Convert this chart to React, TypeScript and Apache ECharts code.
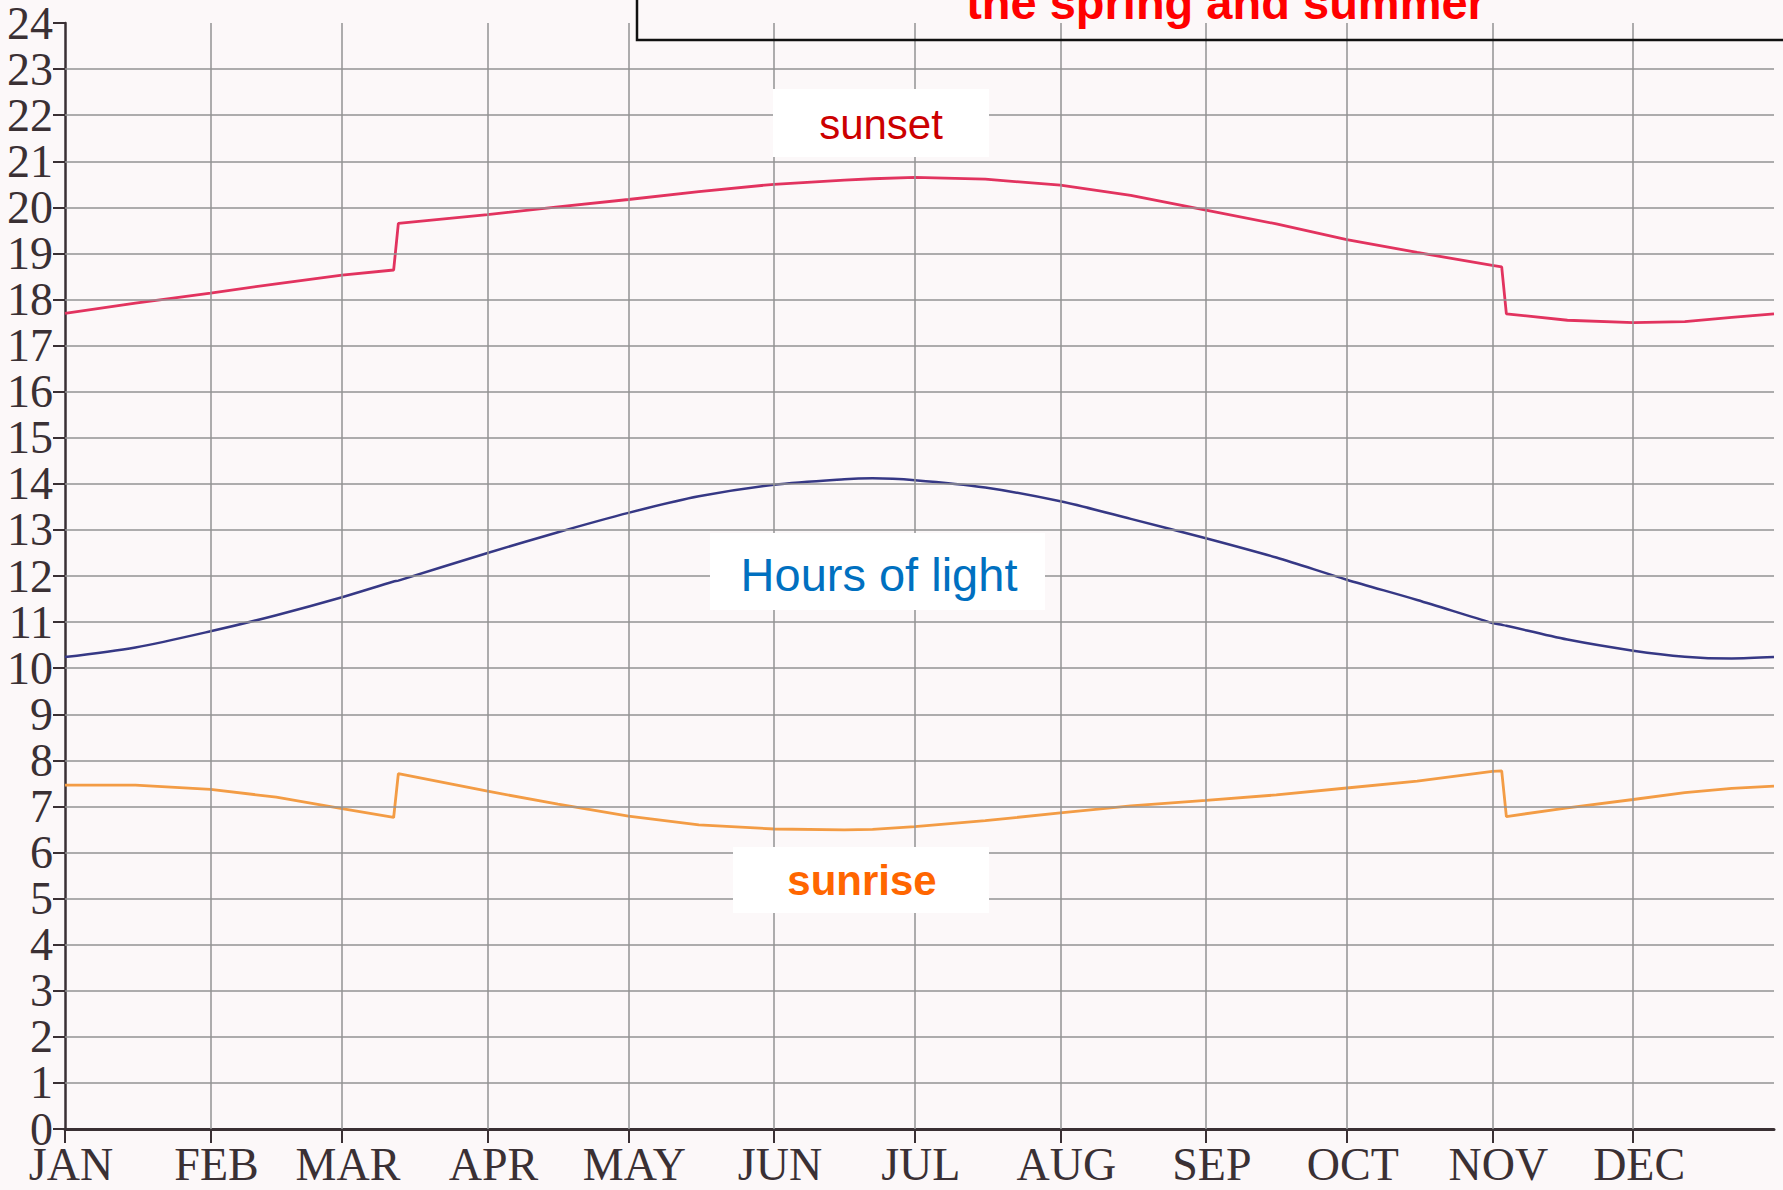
import React, { useEffect, useRef } from "react";
import * as echarts from "echarts";

// day of year (0 = Jan 1)
const monthDays = [0, 31, 59, 90, 120, 151, 181, 212, 243, 273, 304, 334];
const monthNames = ["JAN", "FEB", "MAR", "APR", "MAY", "JUN", "JUL", "AUG", "SEP", "OCT", "NOV", "DEC"];
const hourTicks = [1, 2, 3, 4, 5, 6, 7, 8, 9, 10, 11, 12, 13, 14, 15, 16, 17, 18, 19, 20, 21, 22, 23];

const days = [0, 15, 31, 45, 59, 70, 71, 90, 105, 120, 135, 151, 166, 172, 181, 196, 212, 227, 243, 258, 273, 288, 304, 306, 307, 320, 334, 345, 355, 364];
const sunsetHours = [17.7, 17.92, 18.14, 18.34, 18.53, 18.64, 19.65, 19.84, 20.01, 20.17, 20.34, 20.5, 20.59, 20.62, 20.65, 20.61, 20.48, 20.26, 19.94, 19.64, 19.3, 19.02, 18.74, 18.71, 17.69, 17.55, 17.5, 17.52, 17.61, 17.69];
const lightHours = [10.24, 10.45, 10.8, 11.15, 11.54, 11.88, 11.9, 12.5, 12.95, 13.37, 13.73, 13.98, 14.1, 14.12, 14.08, 13.92, 13.62, 13.24, 12.82, 12.4, 11.92, 11.48, 10.98, 10.94, 10.92, 10.62, 10.38, 10.25, 10.21, 10.24];
const sunriseHours = [7.46, 7.46, 7.37, 7.2, 6.95, 6.76, 7.71, 7.33, 7.05, 6.79, 6.6, 6.51, 6.49, 6.5, 6.56, 6.69, 6.86, 7.01, 7.13, 7.25, 7.4, 7.55, 7.76, 7.77, 6.78, 6.97, 7.15, 7.3, 7.39, 7.44];

const toPairs = (vals: number[]) => days.map((d, i) => [d, vals[i]]);

export default function App() {
  const ref = useRef<HTMLDivElement>(null);
  useEffect(() => {
    if (!ref.current) return;
    const chart = echarts.init(ref.current, undefined, { renderer: "svg" });
    const axisColor = "#3a3034";
    const gridColor = "#939393";
    const option: any = {
      animation: false,
      backgroundColor: "#fcf8f9",
      grid: { left: 65, top: 17, width: 1709, height: 1112, containLabel: false },
      xAxis: {
        type: "value",
        min: 0,
        max: 364,
        axisLine: { show: true, lineStyle: { color: axisColor, width: 3 } },
        axisTick: { show: true, customValues: monthDays, length: 14, lineStyle: { color: axisColor, width: 2 } },
        axisLabel: {
          customValues: monthDays,
          formatter: (v: number) => {
            const i = monthDays.indexOf(v);
            return i >= 0 ? monthNames[i] : "";
          },
          fontFamily: "Liberation Serif",
          fontSize: 46,
          color: axisColor,
          margin: 12,
          padding: [0, 0, 0, 12],
        },
        splitLine: { show: false },
      },
      yAxis: {
        type: "value",
        min: 0,
        max: 24,
        interval: 1,
        axisLine: { show: true, lineStyle: { color: axisColor, width: 2.5 } },
        axisTick: { show: true, length: 12, lineStyle: { color: axisColor, width: 2 } },
        axisLabel: {
          fontFamily: "Liberation Serif",
          fontSize: 46,
          color: axisColor,
          margin: 12,
        },
        splitLine: { show: false },
      },
      series: [
        {
          type: "line",
          name: "grid",
          data: [],
          z: 1,
          silent: true,
          markLine: {
            silent: true,
            animation: false,
            symbol: ["none", "none"],
            label: { show: false },
            lineStyle: { color: gridColor, width: 1.5, type: "solid" },
            data: [
              ...hourTicks.map((h) => ({ yAxis: h })),
              ...monthDays.slice(1).map((d) => ({ xAxis: d })),
            ],
          },
        },
        {
          type: "line",
          name: "sunset",
          data: toPairs(sunsetHours),
          showSymbol: false,
          z: 3,
          lineStyle: { color: "#e2335f", width: 2.8 },
        },
        {
          type: "line",
          name: "Hours of light",
          data: toPairs(lightHours),
          showSymbol: false,
          smooth: 0.3,
          z: 3,
          lineStyle: { color: "#363885", width: 2.5 },
        },
        {
          type: "line",
          name: "sunrise",
          data: toPairs(sunriseHours),
          showSymbol: false,
          z: 3,
          lineStyle: { color: "#f39c45", width: 2.8 },
        },
      ],
      graphic: [
        {
          type: "rect",
          z: 100,
          shape: { x: 637, y: -80, width: 1300, height: 120 },
          style: { fill: "none", stroke: "#111111", lineWidth: 2.5 },
        },
        {
          type: "text",
          z: 101,
          style: {
            x: 1226,
            y: 2,
            text: "the spring and summer",
            font: "bold 47px 'Liberation Sans', Arial, sans-serif",
            fill: "#ff0000",
            align: "center",
            verticalAlign: "middle",
          },
        },
        {
          type: "rect",
          z: 100,
          shape: { x: 773, y: 89, width: 216, height: 68 },
          style: { fill: "#ffffff" },
        },
        {
          type: "text",
          z: 101,
          style: {
            x: 881,
            y: 124,
            text: "sunset",
            font: "42px 'Liberation Sans', Arial, sans-serif",
            fill: "#cc0000",
            align: "center",
            verticalAlign: "middle",
          },
        },
        {
          type: "rect",
          z: 100,
          shape: { x: 710, y: 533, width: 335, height: 77 },
          style: { fill: "#ffffff" },
        },
        {
          type: "text",
          z: 101,
          style: {
            x: 879,
            y: 574,
            text: "Hours of light",
            font: "47px 'Liberation Sans', Arial, sans-serif",
            fill: "#0070c0",
            align: "center",
            verticalAlign: "middle",
          },
        },
        {
          type: "rect",
          z: 100,
          shape: { x: 733, y: 847, width: 256, height: 66 },
          style: { fill: "#ffffff" },
        },
        {
          type: "text",
          z: 101,
          style: {
            x: 862,
            y: 880,
            text: "sunrise",
            font: "bold 42px 'Liberation Sans', Arial, sans-serif",
            fill: "#ff6600",
            align: "center",
            verticalAlign: "middle",
          },
        },
      ],
    };
    chart.setOption(option);
    return () => chart.dispose();
  }, []);
  return (
    <div
      ref={ref}
      style={{ position: "fixed", left: 0, top: 0, width: 1783, height: 1190 }}
    />
  );
}
